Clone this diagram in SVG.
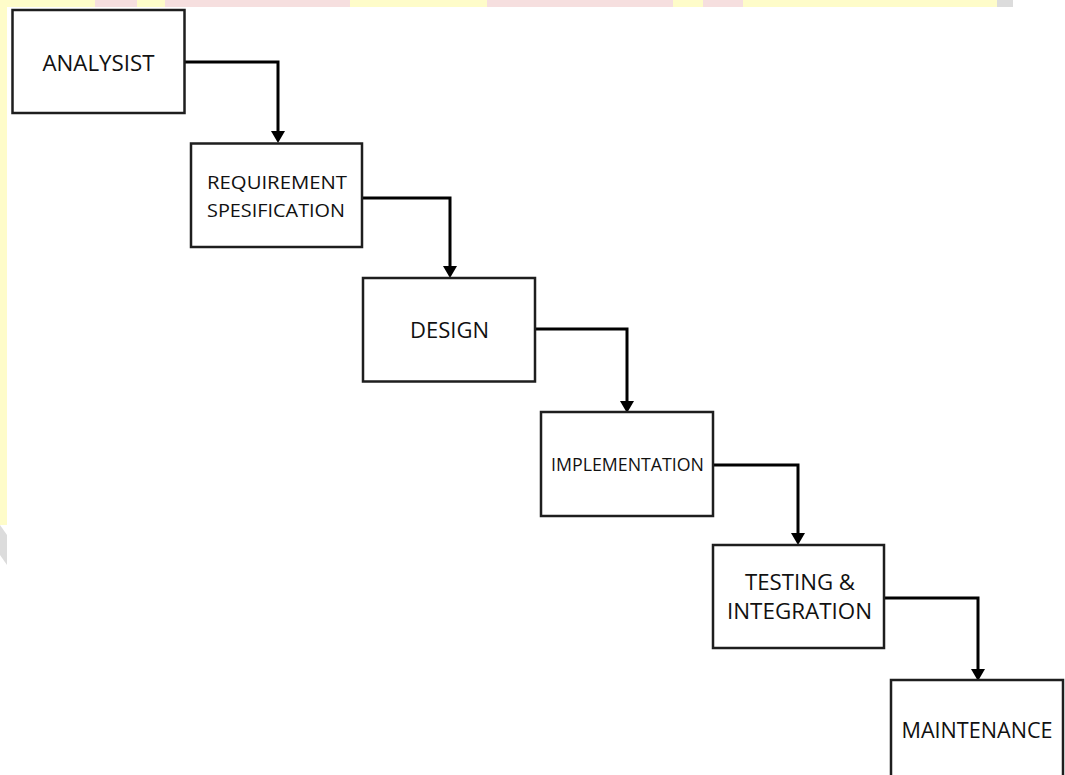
<svg xmlns="http://www.w3.org/2000/svg" width="1065" height="775" viewBox="0 0 1065 775">
<style>
.box{fill:#ffffff;stroke:#1e1e1e;stroke-width:2.5}
.lbl{font-family:"Open Sans","Noto Sans","Liberation Sans",sans-serif;fill:#111111;text-anchor:middle}
.con{fill:none;stroke:#000000;stroke-width:3}
.y{fill:#fefcc9}
.p{fill:#f6dfdf}
.g{fill:#dcdcdc}
</style>
<defs>
<marker id="ah" markerUnits="userSpaceOnUse" markerWidth="12" markerHeight="14" viewBox="0 0 12 14" refX="0" refY="7" orient="auto">
<path d="M0,0 L12,7 L0,14 Z" fill="#000000"/>
</marker>
</defs>
<rect width="1065" height="775" fill="#ffffff"/>
<g id="background">
<rect class="y" x="0" y="0" width="95" height="7"/>
<rect class="p" x="95" y="0" width="42" height="7"/>
<rect class="y" x="137" y="0" width="28" height="7"/>
<rect class="p" x="165" y="0" width="185" height="7"/>
<rect class="y" x="350" y="0" width="137" height="7"/>
<rect class="p" x="487" y="0" width="186" height="7"/>
<rect class="y" x="673" y="0" width="30" height="7"/>
<rect class="p" x="703" y="0" width="40" height="7"/>
<rect class="y" x="743" y="0" width="254" height="7"/>
<rect class="g" x="997" y="0" width="16" height="7"/>
<rect class="y" x="0" y="0" width="7" height="525"/>
<polygon class="g" points="0,525 7,535 7,565 0,555"/>
</g>
<g id="connectors">
<path class="con" d="M185,62 H278 V131" marker-end="url(#ah)"/>
<path class="con" d="M362,198 H450 V266" marker-end="url(#ah)"/>
<path class="con" d="M535,329 H627 V401" marker-end="url(#ah)"/>
<path class="con" d="M713,465 H798 V533" marker-end="url(#ah)"/>
<path class="con" d="M884,598 H978 V669" marker-end="url(#ah)"/>
</g>
<g id="analysist">
<rect class="box" x="12.5" y="10" width="172" height="103"/>
<text class="lbl" x="98.5" y="70.5" font-size="21" textLength="112" lengthAdjust="spacingAndGlyphs">ANALYSIST</text>
</g>
<g id="requirement">
<rect class="box" x="191" y="143.5" width="171" height="103.5"/>
<text class="lbl" x="277" y="189" font-size="19" textLength="140" lengthAdjust="spacingAndGlyphs">REQUIREMENT</text>
<text class="lbl" x="276" y="216.5" font-size="19" textLength="138" lengthAdjust="spacingAndGlyphs">SPESIFICATION</text>
</g>
<g id="design">
<rect class="box" x="363" y="278" width="172" height="103.5"/>
<text class="lbl" x="449.5" y="338" font-size="21" textLength="79" lengthAdjust="spacingAndGlyphs">DESIGN</text>
</g>
<g id="implementation">
<rect class="box" x="541" y="412" width="172" height="104"/>
<text class="lbl" x="627.5" y="470.5" font-size="18" textLength="153" lengthAdjust="spacingAndGlyphs">IMPLEMENTATION</text>
</g>
<g id="testing">
<rect class="box" x="713" y="545" width="171" height="103"/>
<text class="lbl" x="800" y="590" font-size="21" textLength="110" lengthAdjust="spacingAndGlyphs">TESTING &amp;</text>
<text class="lbl" x="799.5" y="619" font-size="21" textLength="145" lengthAdjust="spacingAndGlyphs">INTEGRATION</text>
</g>
<g id="maintenance">
<rect class="box" x="891" y="680" width="172" height="103"/>
<text class="lbl" x="977" y="738" font-size="21" textLength="151" lengthAdjust="spacingAndGlyphs">MAINTENANCE</text>
</g>
</svg>
